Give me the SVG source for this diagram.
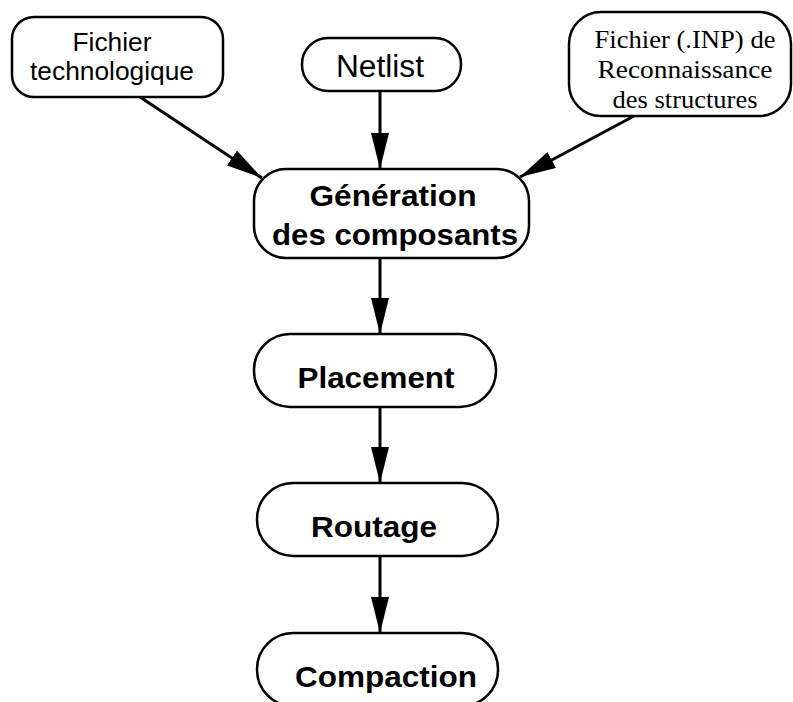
<svg xmlns="http://www.w3.org/2000/svg" width="793" height="702" viewBox="0 0 793 702">
<style>
.box{fill:#fff;stroke:#000;stroke-width:2.5}
.line{stroke:#000;stroke-width:3;fill:none}
.sans{font-family:"Liberation Sans",Arial,sans-serif;fill:#000;text-anchor:middle}
.serif{font-family:"Liberation Serif","Times New Roman",serif;fill:#000;text-anchor:middle}
.b{font-weight:bold;font-size:30px}
</style>
<defs>
<marker id="ah" markerWidth="36" markerHeight="18" refX="36" refY="9" orient="auto" markerUnits="userSpaceOnUse">
<path d="M0,0 L36,9 L0,18 Z" fill="#000"/>
</marker>
</defs>
<g id="connectors">
<line class="line" x1="140" y1="97" x2="262" y2="178" marker-end="url(#ah)"/>
<line class="line" x1="380" y1="91" x2="380" y2="169" marker-end="url(#ah)"/>
<line class="line" x1="634" y1="116" x2="520" y2="177" marker-end="url(#ah)"/>
<line class="line" x1="380" y1="258" x2="380" y2="334" marker-end="url(#ah)"/>
<line class="line" x1="380" y1="407" x2="380" y2="483" marker-end="url(#ah)"/>
<line class="line" x1="380" y1="556" x2="380" y2="633" marker-end="url(#ah)"/>
</g>
<g id="fichier-techno">
<rect class="box" x="12" y="17" width="211" height="80" rx="22"/>
<text class="sans" x="112" y="51" font-size="25" textLength="79" lengthAdjust="spacingAndGlyphs">Fichier</text>
<text class="sans" x="112" y="80" font-size="25" textLength="164" lengthAdjust="spacingAndGlyphs">technologique</text>
</g>
<g id="netlist">
<rect class="box" x="302" y="38" width="159" height="53" rx="26"/>
<text class="sans" x="380" y="77" font-size="31" textLength="88" lengthAdjust="spacingAndGlyphs">Netlist</text>
</g>
<g id="fichier-inp">
<rect class="box" x="569" y="12" width="222" height="104" rx="32"/>
<text class="serif" x="685" y="48" font-size="26" textLength="181" lengthAdjust="spacingAndGlyphs">Fichier (.INP) de</text>
<text class="serif" x="685" y="78" font-size="26" textLength="175" lengthAdjust="spacingAndGlyphs">Reconnaissance</text>
<text class="serif" x="685" y="108" font-size="26" textLength="145" lengthAdjust="spacingAndGlyphs">des structures</text>
</g>
<g id="generation">
<rect class="box" x="254" y="169" width="275" height="89" rx="32"/>
<text class="sans b" x="393" y="206" textLength="167" lengthAdjust="spacingAndGlyphs">Génération</text>
<text class="sans b" x="395" y="245" textLength="246" lengthAdjust="spacingAndGlyphs">des composants</text>
</g>
<g id="placement">
<rect class="box" x="254" y="334" width="242" height="73" rx="36"/>
<text class="sans b" x="376" y="388" textLength="157" lengthAdjust="spacingAndGlyphs">Placement</text>
</g>
<g id="routage">
<rect class="box" x="257" y="483" width="241" height="73" rx="36"/>
<text class="sans b" x="374" y="537" textLength="126" lengthAdjust="spacingAndGlyphs">Routage</text>
</g>
<g id="compaction">
<rect class="box" x="257" y="633" width="241" height="73" rx="36"/>
<text class="sans b" x="386" y="687" textLength="182" lengthAdjust="spacingAndGlyphs">Compaction</text>
</g>
</svg>
